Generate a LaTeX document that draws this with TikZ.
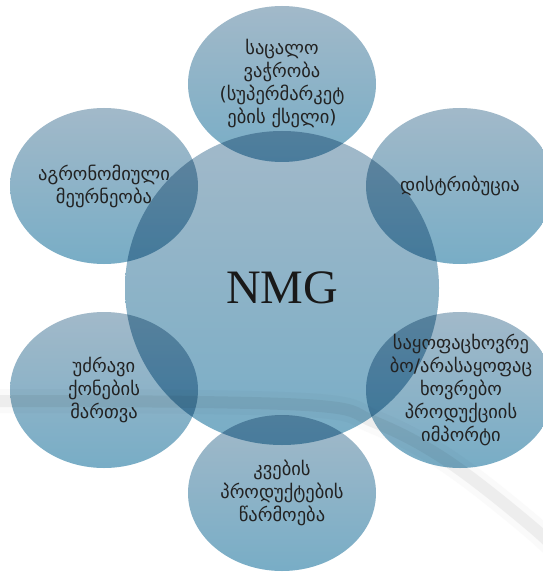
\documentclass[tikz,border=0pt]{standalone}
\usepackage{fontspec}
\setmainfont{Liberation Serif}
\newfontfamily\geo{DejaVu Sans}
\usetikzlibrary{shapes.geometric}
\definecolor{bubbletop}{HTML}{A2B9C9}
\definecolor{bubblebot}{HTML}{78ADC6}
\definecolor{inkgray}{HTML}{222222}
\begin{document}
\begin{tikzpicture}[x=1pt,y=-1pt,
  bubble/.style={ellipse, inner sep=0pt, draw=none, top color=bubbletop, bottom color=bubblebot,
                 minimum width=188pt, minimum height=156pt},
  hub/.style={circle, inner sep=0pt, draw=none, top color=bubbletop, bottom color=bubblebot,
              minimum size=314pt},
  caption/.style={font=\geo\fontsize{18.5}{23}\selectfont, text=inkgray, align=center},
  swoosh/.style={line cap=round, line join=round},
]
\clip (0,0) rectangle (542,572);
\fill[white] (0,0) rectangle (542,572);

\begin{scope}[blend group=multiply]
  % faint background swoosh
  \draw[swoosh, line width=24pt, black!2]
    plot[smooth, tension=0.6] coordinates {(-20,401) (200,402) (330,407) (372,421) (420,444) (470,477) (537,531) (575,568)};
  \draw[swoosh, line width=12pt, black!5]
    plot[smooth, tension=0.6] coordinates {(-20,401) (200,402) (330,407) (372,421) (420,444) (470,477) (537,531) (575,568)};

  % hub and surrounding bubbles
  \node[hub] (core) at (282,288) {};
  \node[bubble] (retail) at (282,84) {};
  \node[bubble] (agro) at (104,186) {};
  \node[bubble] (distr) at (460,186) {};
  \node[bubble] (estate) at (104,390) {};
  \node[bubble] (import) at (460,390) {};
  \node[bubble] (food) at (282,493) {};
\end{scope}

\node[font=\fontsize{48}{48}\selectfont, text=black!90] (hubtext) at (core) {NMG};
\node[caption] (t-retail) at (retail) {საცალო\\ვაჭრობა\\(სუპერმარკეტ\\ების ქსელი)};
\node[caption] (t-agro) at (agro) {აგრონომიული\\მეურნეობა};
\node[caption] (t-distr) at (distr) {დისტრიბუცია};
\node[caption] (t-estate) at (estate) {უძრავი\\ქონების\\მართვა};
\node[caption] (t-import) at ([xshift=1pt]import) {საყოფაცხოვრე\\ბო/არასაყოფაც\\ხოვრებო\\პროდუქციის\\იმპორტი};
\node[caption] (t-food) at (food) {კვების\\პროდუქტების\\წარმოება};
\end{tikzpicture}
\end{document}
